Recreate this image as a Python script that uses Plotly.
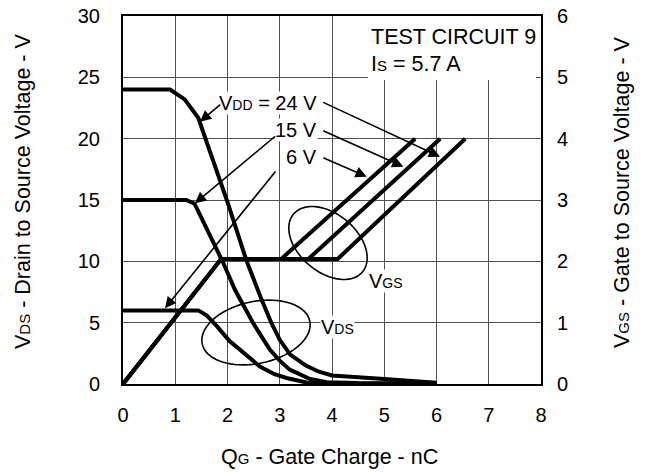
import math
import plotly.graph_objects as go

# ---------------- data ----------------
# VDS curves (left axis, V) vs gate charge (nC)
q_vds_24 = [0, 0.9, 1.18, 1.44, 2.01, 2.36, 2.65, 2.84, 3.0, 3.2, 3.5, 3.75, 4.0, 4.4, 5.0, 6.0]
v_vds_24 = [24, 24, 23.2, 21.7, 14.7, 10.1, 6.9, 4.97, 3.6, 2.4, 1.5, 1.0, 0.7, 0.55, 0.4, 0.1]

q_vds_15 = [0, 1.21, 1.37, 1.53, 1.92, 2.14, 2.49, 2.81, 3.0, 3.19, 3.58, 3.9, 4.5, 6.0]
v_vds_15 = [15, 15, 14.7, 13.3, 9.86, 7.7, 4.97, 2.8, 1.9, 1.17, 0.41, 0.15, 0.08, 0.05]

q_vds_6 = [0, 1.44, 1.6, 1.8, 2.04, 2.24, 2.62, 2.9, 3.13, 3.51, 4.0, 6.0]
v_vds_6 = [6, 6, 5.6, 4.7, 3.5, 2.8, 1.43, 0.8, 0.49, 0.12, 0.03, 0.02]

# VGS curves (right axis, V)
q_vgs_6 = [0, 1.88, 3.03, 5.59]
q_vgs_15 = [0, 1.88, 3.55, 6.07]
q_vgs_24 = [0, 1.88, 4.11, 6.55]
v_vgs = [0, 2.04, 2.04, 4.0]

x_ticks = [0, 1, 2, 3, 4, 5, 6, 7, 8]
y_left_ticks = [0, 5, 10, 15, 20, 25, 30]
y_right_ticks = [0, 1, 2, 3, 4, 5, 6]

# ---------------- layout geometry (page pixels; body margin removed) ----------------
OFF = 0
W, H = 647, 473
ML, MT = 123, 16
PW, PH = 418, 368
MR = W - ML - PW
MB = H - MT - PH
XR, YR = 8.0, 30.0


def px2x(px):  # page pixel -> x data
    return (px - OFF - ML) / PW * XR


def py2y(py):  # page pixel -> left-y data
    return (MT + PH - (py - OFF)) / PH * YR


def px2paper(px):
    return (px - OFF - ML) / PW


def py2paper(py):
    return (MT + PH - (py - OFF)) / PH


def ellipse_path(cx, cy, a, b, theta_deg, n=72):
    th = math.radians(theta_deg)
    pts = []
    for i in range(n + 1):
        p = 2 * math.pi * i / n
        ex = cx + a * math.cos(p) * math.cos(th) - b * math.sin(p) * math.sin(th)
        ey = cy + a * math.cos(p) * math.sin(th) + b * math.sin(p) * math.cos(th)
        pts.append((px2x(ex), py2y(ey)))
    d = "M " + " L ".join(f"{x:.4f},{y:.4f}" for x, y in pts) + " Z"
    return d


FONT = "Liberation Sans, Arial, sans-serif"
LW = 4

fig = go.Figure()
for q, v in [(q_vds_24, v_vds_24), (q_vds_15, v_vds_15), (q_vds_6, v_vds_6)]:
    fig.add_trace(go.Scatter(x=q, y=v, mode="lines", line=dict(color="black", width=LW),
                             yaxis="y", showlegend=False, hoverinfo="skip"))
for q in [q_vgs_6, q_vgs_15, q_vgs_24]:
    fig.add_trace(go.Scatter(x=q, y=v_vgs, mode="lines", line=dict(color="black", width=LW),
                             yaxis="y2", showlegend=False, hoverinfo="skip"))


def sub(t, size=14):
    return f"<span style='font-size:{size}px'>{t}</span>"


annotations = []
# labels with white backgrounds
lab_kw = dict(xref="x", yref="y", showarrow=False, bgcolor="white",
              font=dict(family=FONT, size=20, color="black"), borderpad=0)
annotations.append(dict(text="V" + sub("DD") + " = 24 V", x=px2x(318), y=py2y(103),
                        xanchor="right", yanchor="middle", **lab_kw))
annotations.append(dict(text="15 V", x=px2x(318), y=py2y(130), xanchor="right", yanchor="middle", **lab_kw))
annotations.append(dict(text="6 V", x=px2x(318), y=py2y(157), xanchor="right", yanchor="middle", **lab_kw))
annotations.append(dict(text="V" + sub("GS"), x=px2x(386), y=py2y(281), xanchor="center", yanchor="middle", **lab_kw))
annotations.append(dict(text="V" + sub("DS"), x=px2x(337), y=py2y(327), xanchor="center", yanchor="middle", **lab_kw))

# test circuit text
tc_kw = dict(xref="x", yref="y", showarrow=False, font=dict(family=FONT, size=21.5, color="black"),
             xanchor="left", yanchor="middle")
annotations.append(dict(text="TEST CIRCUIT 9", x=px2x(369), y=py2y(37), **tc_kw))
annotations.append(dict(text="I" + sub("S", 15) + " = 5.7 A", x=px2x(369), y=py2y(64), **tc_kw))

# arrows: (tail_px, tail_py, head_px, head_py) in page pixels
arrows = [
    (221.7, 103.3, 200, 121.7),
    (321.7, 101.7, 440, 156.7),
    (321.7, 130, 403.3, 166.7),
    (321.7, 157, 366.7, 176.7),
    (276.7, 135, 195, 203.3),
    (276.7, 170, 165, 308.3),
]
for tx, ty, hx, hy in arrows:
    annotations.append(dict(text="", x=px2x(hx), y=py2y(hy), xref="x", yref="y",
                            ax=tx - hx, ay=ty - hy, showarrow=True, arrowhead=2,
                            arrowsize=1.4, arrowwidth=1.6, arrowcolor="black", standoff=0))

# axis titles as annotations
title_font = dict(family=FONT, size=21.5, color="black")
annotations.append(dict(text="Q" + sub("G", 15) + " - Gate Charge - nC", xref="paper", yref="paper",
                        x=px2paper(329), y=py2paper(457), showarrow=False,
                        xanchor="center", yanchor="middle", font=title_font))
annotations.append(dict(text="V" + sub("DS", 15) + " - Drain to Source Voltage - V", xref="paper", yref="paper",
                        x=px2paper(23), y=py2paper(192), showarrow=False, textangle=-90,
                        xanchor="center", yanchor="middle", font=title_font))
annotations.append(dict(text="V" + sub("GS", 15) + " - Gate to Source Voltage - V", xref="paper", yref="paper",
                        x=px2paper(622), y=py2paper(192), showarrow=False, textangle=-90,
                        xanchor="center", yanchor="middle", font=title_font))

shapes = [
    dict(type="rect", xref="x", yref="y", x0=px2x(368), x1=px2x(536), y0=py2y(80), y1=30,
         fillcolor="white", line=dict(width=0), layer="between"),
    dict(type="path", xref="x", yref="y", path=ellipse_path(328, 243, 45, 29, 40),
         line=dict(color="black", width=1.6), layer="above"),
    dict(type="path", xref="x", yref="y", path=ellipse_path(256, 332.5, 55, 31, -12),
         line=dict(color="black", width=1.6), layer="above"),
]

tick_font = dict(family=FONT, size=20, color="black")
common = dict(fixedrange=True, ticklabeloverflow="allow", automargin=False, zeroline=False, ticks="",
              tickfont=tick_font)
fig.update_layout(
    width=W, height=H,
    margin=dict(l=ML, r=MR, t=MT, b=MB, pad=0, autoexpand=False),
    plot_bgcolor="white", paper_bgcolor="white",
    xaxis=dict(range=[0, 8], tickvals=x_ticks, showgrid=True, gridcolor="#505050", gridwidth=1,
               showline=True, linecolor="black", linewidth=2, mirror=True,
               ticklabelstandoff=12, **common),
    yaxis=dict(range=[0, 30], tickvals=y_left_ticks, showgrid=True, gridcolor="#505050", gridwidth=1,
               showline=True, linecolor="black", linewidth=2, mirror=True,
               ticklabelstandoff=17, **common),
    yaxis2=dict(range=[0, 6], tickvals=y_right_ticks, overlaying="y", side="right", showgrid=False,
                showline=False, ticklabelstandoff=15, **common),
    annotations=annotations,
    shapes=shapes,
    showlegend=False,
)

fig.write_html("out.html", config={"displayModeBar": False},
               post_script="document.body.style.margin='0';document.body.style.overflow='hidden';")
